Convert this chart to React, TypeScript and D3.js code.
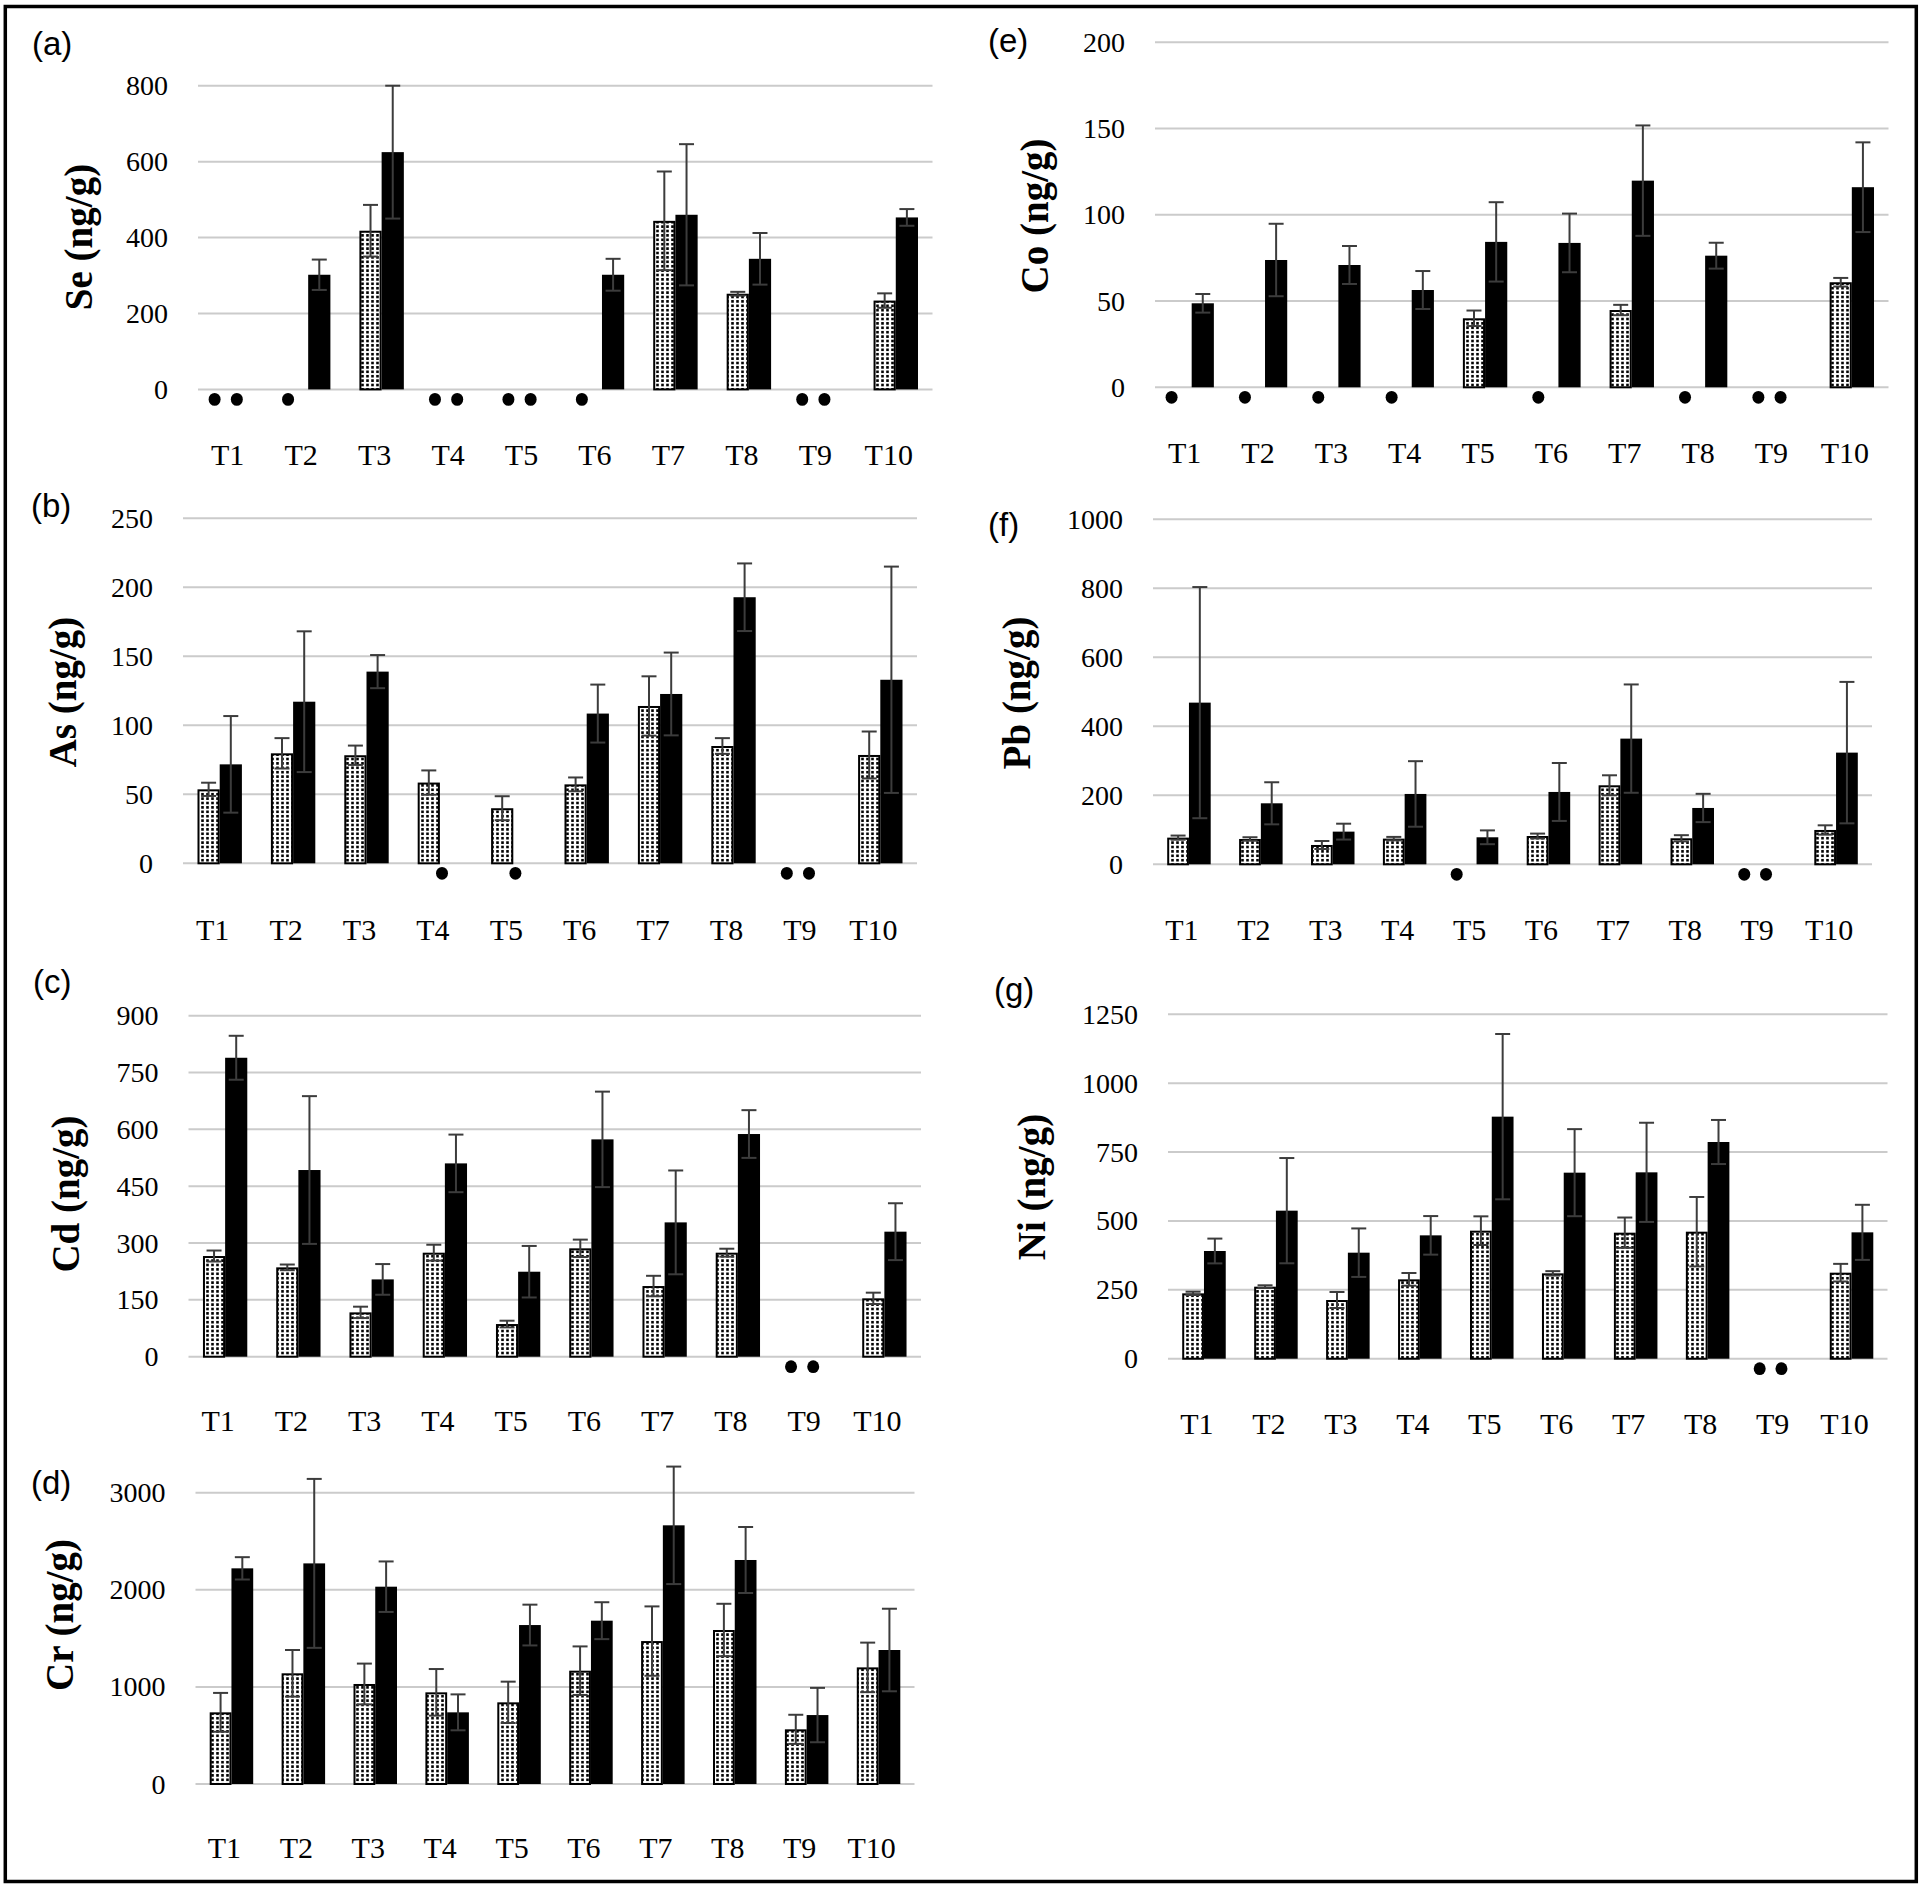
import React from 'react';
import * as d3 from 'd3';

// ---------------- data ----------------
const categories = ['T1', 'T2', 'T3', 'T4', 'T5', 'T6', 'T7', 'T8', 'T9', 'T10'];

const seDotted = [null, null, 418, null, null, null, 444, 252, null, 234];
const seDottedErr = [null, null, 68, null, null, null, 130, 5, null, 19];
const seBlack = [null, 302, 625, null, null, 302, 460, 344, null, 453];
const seBlackErr = [null, 40, 175, null, null, 42, 186, 68, null, 22];
const seTicks = [0, 200, 400, 600, 800];

const asDotted = [53.6, 79.7, 78.3, 58.5, 39.9, 57.2, 114, 85, null, 78.5];
const asDottedErr = [4.8, 11, 7, 8.8, 8.7, 5, 21.5, 5.7, null, 17];
const asBlack = [71.7, 117.1, 138.9, null, null, 108.5, 122.7, 192.8, null, 133];
const asBlackErr = [35, 51, 12, null, null, 21, 30, 24.5, null, 82];
const asTicks = [0, 50, 100, 150, 200, 250];

const cdDotted = [265.7, 235.8, 117, 274.5, 86.2, 286, 186.5, 274.5, null, 154];
const cdDottedErr = [14.5, 7.5, 15, 21, 8.8, 23, 27, 10.5, null, 15];
const cdBlack = [789, 492.7, 204, 510.2, 224.3, 573.6, 354.5, 587.7, null, 330];
const cdBlackErr = [58, 195, 40.5, 76, 68, 126, 137, 63, null, 75];
const cdTicks = [0, 150, 300, 450, 600, 750, 900];

const crDotted = [738, 1140, 1030, 944, 841, 1167, 1472, 1586, 563, 1201];
const crDottedErr = [200, 240, 210, 240, 213, 250, 357, 270, 150, 255];
const crBlack = [2221, 2272, 2032, 738, 1637, 1682, 2664, 2307, 710, 1380];
const crBlackErr = [115, 870, 260, 185, 210, 190, 605, 340, 280, 425];
const crTicks = [0, 1000, 2000, 3000];

const coDotted = [null, null, null, null, 40, null, 44.8, null, null, 60.9];
const coDottedErr = [null, null, null, null, 4.5, null, 3, null, null, 2.5];
const coBlack = [48.7, 73.8, 70.9, 56.4, 84.3, 83.7, 119.8, 76.3, null, 116];
const coBlackErr = [5.4, 21, 11, 11, 23, 17, 32, 7.5, null, 26];
const coTicks = [0, 50, 100, 150, 200];

const pbDotted = [77.3, 73.4, 56, 74.4, null, 82, 229, 75.4, null, 99.5];
const pbDottedErr = [6, 5, 11.6, 5, null, 7, 29, 9, null, 13.5];
const pbBlack = [468.6, 176.8, 94.7, 203.9, 78.3, 209.7, 364.3, 163.3, null, 323.7];
const pbBlackErr = [335, 61, 23, 95, 20, 84, 157, 41, null, 205];
const pbTicks = [0, 200, 400, 600, 800, 1000];

const niDotted = [237.2, 261.4, 213, 288, 464.7, 309.8, 457.4, 461, null, 312.2];
const niDottedErr = [6, 5, 29, 23, 52, 8, 55, 126, null, 32];
const niBlack = [390.9, 537.3, 384.8, 447.7, 878.5, 675.2, 676.4, 786.5, null, 458.6];
const niBlackErr = [45, 191, 88, 70, 300, 158, 180, 80, null, 100];
const niTicks = [0, 250, 500, 750, 1000, 1250];

// ---------------- layout ----------------
type Cfg = {
  letter: string; title: string;
  dotted: (number | null)[]; dottedErr: (number | null)[];
  black: (number | null)[]; blackErr: (number | null)[];
  ticks: number[];
  x0: number; x1: number; yTop: number; yZero: number;
  lx: number; ly: number; tx: number; ty: number; xlBase: number;
};

const panels: Cfg[] = [
  { letter: '(a)', title: 'Se (ng/g)', dotted: seDotted, dottedErr: seDottedErr, black: seBlack, blackErr: seBlackErr, ticks: seTicks,
    x0: 198, x1: 932.5, yTop: 85.7, yZero: 389.4, lx: 32, ly: 55, tx: 92, ty: 237, xlBase: 465 },
  { letter: '(b)', title: 'As (ng/g)', dotted: asDotted, dottedErr: asDottedErr, black: asBlack, blackErr: asBlackErr, ticks: asTicks,
    x0: 183, x1: 917, yTop: 518.3, yZero: 863.3, lx: 31, ly: 517, tx: 76, ty: 692, xlBase: 940 },
  { letter: '(c)', title: 'Cd (ng/g)', dotted: cdDotted, dottedErr: cdDottedErr, black: cdBlack, blackErr: cdBlackErr, ticks: cdTicks,
    x0: 188.5, x1: 921, yTop: 1015.7, yZero: 1356.7, lx: 33, ly: 993, tx: 79, ty: 1194, xlBase: 1431 },
  { letter: '(d)', title: 'Cr (ng/g)', dotted: crDotted, dottedErr: crDottedErr, black: crBlack, blackErr: crBlackErr, ticks: crTicks,
    x0: 195.5, x1: 914.5, yTop: 1492.7, yZero: 1784, lx: 31, ly: 1494, tx: 73, ty: 1615, xlBase: 1858 },
  { letter: '(e)', title: 'Co (ng/g)', dotted: coDotted, dottedErr: coDottedErr, black: coBlack, blackErr: coBlackErr, ticks: coTicks,
    x0: 1155, x1: 1888.5, yTop: 42.3, yZero: 387.3, lx: 988, ly: 52, tx: 1048, ty: 216, xlBase: 463 },
  { letter: '(f)', title: 'Pb (ng/g)', dotted: pbDotted, dottedErr: pbDottedErr, black: pbBlack, blackErr: pbBlackErr, ticks: pbTicks,
    x0: 1153, x1: 1872, yTop: 519.3, yZero: 864.3, lx: 988, ly: 536, tx: 1030, ty: 693, xlBase: 940 },
  { letter: '(g)', title: 'Ni (ng/g)', dotted: niDotted, dottedErr: niDottedErr, black: niBlack, blackErr: niBlackErr, ticks: niTicks,
    x0: 1168, x1: 1887.5, yTop: 1014.3, yZero: 1358.7, lx: 994, ly: 1001, tx: 1045, ty: 1187, xlBase: 1434 },
];

const SERIF = '"Liberation Serif", "Times New Roman", serif';
const SANS = '"Liberation Sans", Arial, sans-serif';
const GRID = '#cbcbcb';
const ERR = '#3c3c3c';
const CAP = 7.5;
const MARK_SHIFT = -9;
const LABEL_SHIFT = -7;

function Panel({ cfg }: { cfg: Cfg }) {
  const x = d3.scaleBand<string>().domain(categories).range([cfg.x0, cfg.x1]).paddingInner(0.395).paddingOuter(0.1975);
  const sub = d3.scaleBand<string>().domain(['dotted', 'black']).range([0, x.bandwidth()]);
  const y = d3.scaleLinear().domain([0, cfg.ticks[cfg.ticks.length - 1]]).range([cfg.yZero, cfg.yTop]);
  const series = [
    { key: 'dotted', values: cfg.dotted, errs: cfg.dottedErr },
    { key: 'black', values: cfg.black, errs: cfg.blackErr },
  ];
  const bw = sub.bandwidth();

  return (
    <g>
      {cfg.ticks.map((t) => (
        <g key={t}>
          <line x1={cfg.x0} x2={cfg.x1} y1={y(t)} y2={y(t)} stroke={GRID} strokeWidth={2} />
          <text x={cfg.x0 - 30} y={y(t) + 9.5} textAnchor="end" fontFamily={SERIF} fontSize={28} fill="#000">{t}</text>
        </g>
      ))}
      {series.map((s) =>
        categories.map((c, i) => {
          const v = s.values[i];
          const bx = (x(c) as number) + (sub(s.key) as number);
          if (v == null) {
            return (
              <ellipse key={s.key + c} cx={bx + bw / 2 + MARK_SHIFT} cy={y(0) + 10} rx={6} ry={6.4} fill="#000" />
            );
          }
          if (s.key === 'dotted') {
            return (
              <rect key={s.key + c} x={bx + 1} y={y(v) + 1} width={bw - 2} height={y(0) - y(v) - 1}
                fill="url(#dotpat)" stroke="#000" strokeWidth={2} />
            );
          }
          return <rect key={s.key + c} x={bx} y={y(v)} width={bw} height={y(0) - y(v)} fill="#000" />;
        })
      )}
      {series.map((s) =>
        categories.map((c, i) => {
          const v = s.values[i];
          const e = s.errs[i];
          if (v == null || e == null) return null;
          const cx = (x(c) as number) + (sub(s.key) as number) + bw / 2;
          const yt = y(v + e);
          const yb = y(v - e);
          return (
            <g key={'e' + s.key + c} stroke={ERR} strokeWidth={2}>
              <line x1={cx} x2={cx} y1={yt} y2={yb} />
              <line x1={cx - CAP} x2={cx + CAP} y1={yt} y2={yt} />
              <line x1={cx - CAP} x2={cx + CAP} y1={yb} y2={yb} />
            </g>
          );
        })
      )}
      {categories.map((c) => (
        <text key={'xl' + c} x={(x(c) as number) + x.bandwidth() / 2 + LABEL_SHIFT} y={cfg.xlBase} textAnchor="middle"
          fontFamily={SERIF} fontSize={30} fill="#000">{c}</text>
      ))}
      <text transform={`translate(${cfg.tx},${cfg.ty}) rotate(-90)`} textAnchor="middle" fontFamily={SERIF}
        fontWeight="bold" fontSize={39} fill="#000">{cfg.title}</text>
      <text x={cfg.lx} y={cfg.ly} fontFamily={SANS} fontSize={33} fill="#000">{cfg.letter}</text>
    </g>
  );
}

export default function App() {
  return (
    <svg width={1920} height={1884} viewBox="0 0 1920 1884"
      style={{ position: 'absolute', left: 0, top: 0, display: 'block', background: '#fff' }}>
      <defs>
        <pattern id="dotpat" patternUnits="userSpaceOnUse" width={5} height={4.4}>
          <rect x={0} y={0} width={5} height={4.4} fill="#fff" />
          <rect x={1.2} y={0.9} width={2.6} height={2.6} fill="#000" />
        </pattern>
      </defs>
      <rect x={0} y={0} width={1920} height={1884} fill="#fff" />
      <rect x={5.3} y={6.5} width={1911} height={1875} fill="none" stroke="#000" strokeWidth={3.5} />
      {panels.map((p) => (
        <Panel key={p.letter} cfg={p} />
      ))}
    </svg>
  );
}
